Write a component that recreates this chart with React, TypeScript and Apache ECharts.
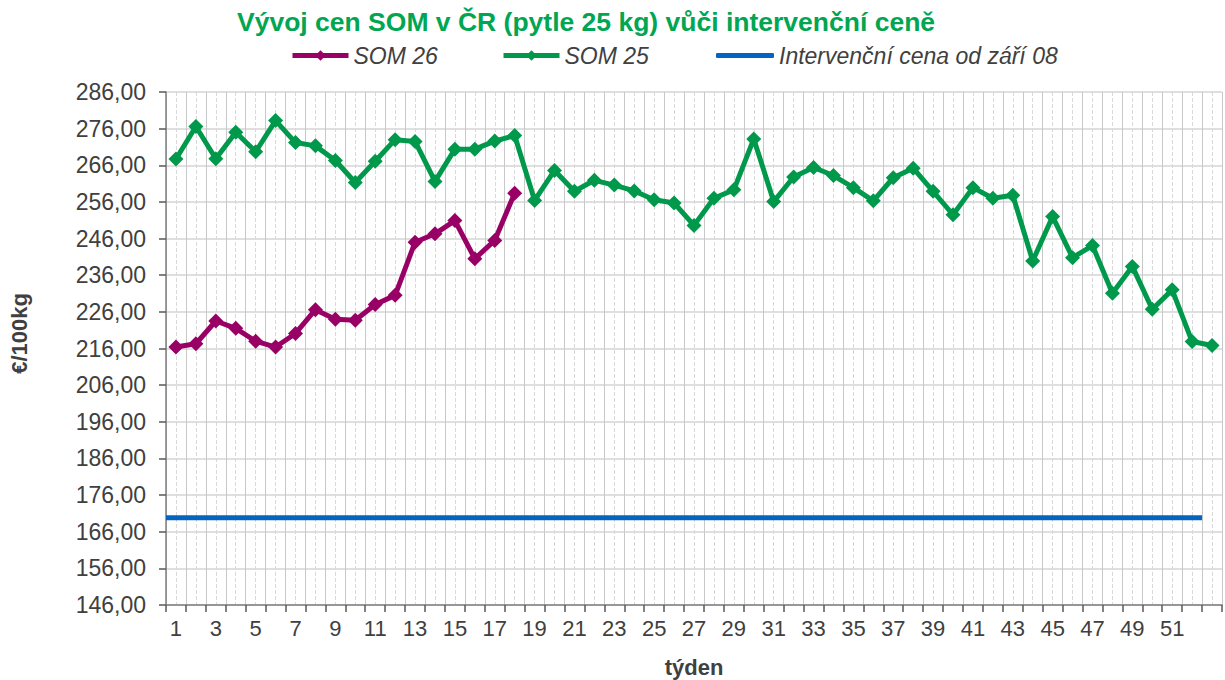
import React, { useEffect, useRef } from "react";
import * as echarts from "echarts";

const weeks = [
  "1", "2", "3", "4", "5", "6", "7", "8", "9", "10", "11", "12", "13", "14", "15", "16", "17", "18",
  "19", "20", "21", "22", "23", "24", "25", "26", "27", "28", "29", "30", "31", "32", "33", "34", "35",
  "36", "37", "38", "39", "40", "41", "42", "43", "44", "45", "46", "47", "48", "49", "50", "51", "52", "53",
];

const som26 = [
  216.4, 217.3, 223.5, 221.5, 218.0, 216.4, 220.1, 226.6, 224.0, 223.7, 228.0, 230.5,
  245.0, 247.3, 250.9, 240.5, 245.5, 258.4,
];

const som25 = [
  267.7, 276.6, 267.8, 275.0, 269.7, 278.2, 272.2, 271.3, 267.3, 261.3, 267.1, 273.0,
  272.5, 261.6, 270.4, 270.4, 272.6, 274.1, 256.4, 264.6, 258.9, 261.9, 260.6, 259.0,
  256.6, 255.7, 249.6, 257.0, 259.3, 273.2, 256.1, 262.8, 265.4, 263.2, 259.9, 256.3,
  262.6, 265.2, 258.9, 252.5, 259.9, 257.0, 257.8, 239.9, 252.0, 240.8, 244.1, 231.1,
  238.4, 226.7, 232.0, 217.9, 216.8,
];

// intervention price line: spans from the left edge to the boundary after week 52
const interventionX = [0, 52];
const interventionY = [169.8, 169.8];

const yMin = 146;
const yMax = 286;
const yStep = 10;

const FONT = "'Liberation Sans', Arial, sans-serif";

export default function App() {
  const ref = useRef<HTMLDivElement>(null);

  useEffect(() => {
    if (!ref.current) return;
    const chart = echarts.init(ref.current, null, { renderer: "svg" });
    const som26Data = weeks.map((_, i) => (i < som26.length ? som26[i] : null));
    const blueData = interventionX.map((x, i) => [x, interventionY[i]]);

    const legendCommon = {
      top: 39,
      itemWidth: 56,
      itemHeight: 13,
      itemGap: 4,
      lineStyle: { width: 5 },
      textStyle: { fontFamily: FONT, fontSize: 23, fontStyle: "italic", color: "#404040" },
      selectedMode: false,
    };

    chart.setOption({
      animation: false,
      backgroundColor: "#ffffff",
      title: {
        text: "Vývoj cen SOM v ČR (pytle 25 kg) vůči intervenční ceně",
        left: 232,
        top: 3,
        textStyle: { fontFamily: FONT, fontSize: 26.5, fontWeight: "bold", color: "#00a651" },
      },
      legend: [
        { ...legendCommon, left: 285, data: ["SOM 26"] },
        { ...legendCommon, left: 496, data: ["SOM 25"] },
        {
          ...legendCommon,
          left: 711,
          itemWidth: 58,
          itemHeight: 5,
          data: [{ name: "Intervenční cena od září 08", icon: "roundRect" }],
        },
      ],
      grid: { left: 166, right: 3, top: 92, bottom: 75, containLabel: false, outerBoundsMode: "none" },
      xAxis: [
        {
          type: "category",
          data: weeks,
          boundaryGap: true,
          name: "týden",
          nameLocation: "middle",
          nameGap: 51,
          nameTextStyle: { fontFamily: FONT, fontSize: 22, fontWeight: "bold", color: "#404040" },
          axisLine: { show: true, lineStyle: { color: "#7f7f7f", width: 1.5 } },
          axisTick: { show: true, interval: 0, length: 7, lineStyle: { color: "#595959", width: 1.5 } },
          axisLabel: {
            interval: (idx: number) => idx % 2 === 0 && idx < 52,
            margin: 12,
            fontFamily: FONT,
            fontSize: 22,
            color: "#404040",
          },
          splitLine: { show: false },
          z: 5,
        },
        {
          type: "value",
          min: 0,
          max: 53,
          interval: 1,
          show: true,
          position: "bottom",
          axisLine: { show: false },
          axisTick: { show: false },
          axisLabel: { show: false },
          minorTick: { show: false, splitNumber: 2 },
          splitLine: { show: true, lineStyle: { color: "#c8c8c8", width: 1 } },
          minorSplitLine: { show: true, lineStyle: { color: "#d9d9d9", width: 1, type: "dashed" } },
        },
      ],
      yAxis: {
        type: "value",
        min: yMin,
        max: yMax,
        interval: yStep,
        name: "€/100kg",
        nameLocation: "middle",
        nameGap: 136,
        nameRotate: 90,
        nameTextStyle: {
          fontFamily: FONT,
          fontSize: 22,
          fontWeight: "bold",
          color: "#404040",
          padding: [0, 0, 0, 30],
        },
        axisLine: { show: true, lineStyle: { color: "#7f7f7f", width: 1.5 } },
        axisTick: { show: true, length: 7, lineStyle: { color: "#595959", width: 1.5 } },
        axisLabel: {
          margin: 20,
          fontFamily: FONT,
          fontSize: 23,
          color: "#404040",
          formatter: (v: number) => v.toFixed(2).replace(".", ","),
        },
        splitLine: { show: true, lineStyle: { color: "#d4d4d4", width: 1.5 } },
      },
      series: [
        {
          name: "SOM 26",
          type: "line",
          xAxisIndex: 0,
          data: som26Data,
          symbol: "diamond",
          symbolSize: 15,
          showAllSymbol: true,
          lineStyle: { color: "#990066", width: 5 },
          itemStyle: { color: "#990066" },
          z: 4,
        },
        {
          name: "SOM 25",
          type: "line",
          xAxisIndex: 0,
          data: som25,
          symbol: "diamond",
          symbolSize: 15,
          showAllSymbol: true,
          lineStyle: { color: "#00994c", width: 5 },
          itemStyle: { color: "#00994c" },
          z: 3,
        },
        {
          name: "Intervenční cena od září 08",
          type: "line",
          xAxisIndex: 1,
          data: blueData,
          symbol: "none",
          lineStyle: { color: "#0563c1", width: 5 },
          itemStyle: { color: "#0563c1" },
          z: 2,
        },
      ],
    });
    return () => chart.dispose();
  }, []);

  return (
    <div
      ref={ref}
      style={{ position: "absolute", left: 0, top: 0, width: 1225, height: 680 }}
    />
  );
}
